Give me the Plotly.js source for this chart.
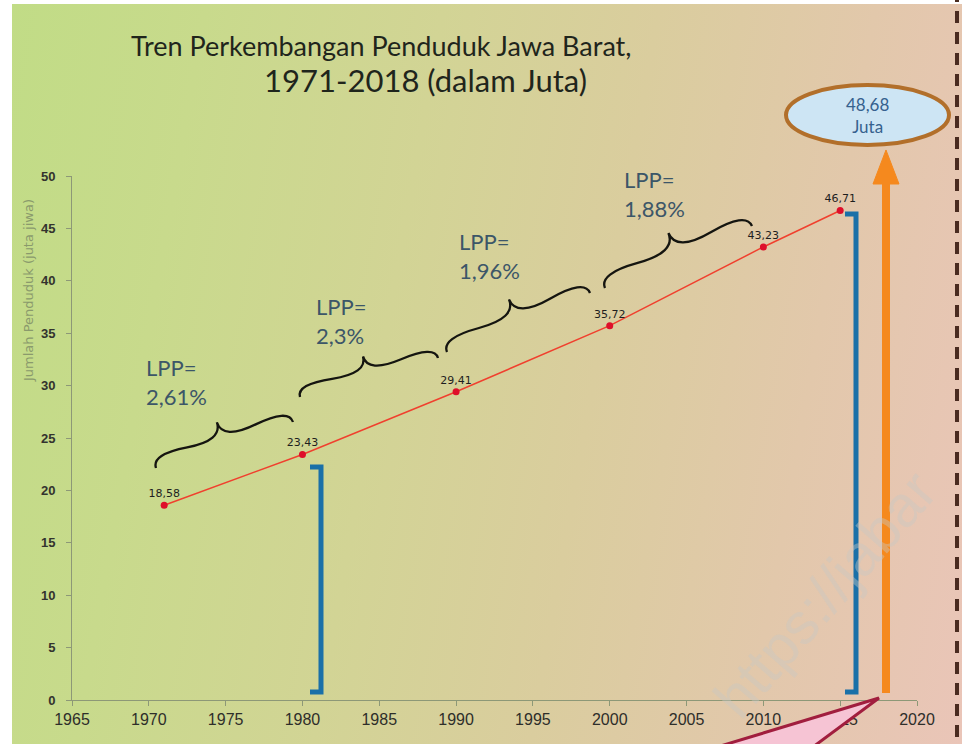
<!DOCTYPE html>
<html><head><meta charset="utf-8">
<script src="https://cdn.plot.ly/plotly-3.0.1.min.js"></script>
<style>
html,body{margin:0;padding:0;background:#fff;width:962px;height:744px;overflow:hidden;}
#bg{position:absolute;left:12px;top:4px;width:950px;height:740px;
background:linear-gradient(100deg,#c1dc86 0%,#c8da8c 18%,#d2d495 40%,#dacd9e 60%,#e2c8ab 80%,#eac5b8 100%);}
#chart{position:absolute;left:0;top:0;width:962px;height:744px;}
</style></head><body><div id="bg"></div><div id="chart"></div>
<script>
// ---- data ----
const years = [1971, 1980, 1990, 2000, 2010, 2015];
const population = [18.58, 23.43, 29.41, 35.72, 43.23, 46.71];
const xTickVals = [1965, 1970, 1975, 1980, 1985, 1990, 1995, 2000, 2005, 2010, 2015, 2020];
const yTickVals = [0, 5, 10, 15, 20, 25, 30, 35, 40, 45, 50];
const lppTexts = ['LPP=<br>2,61%', 'LPP=<br>2,3%', 'LPP=<br>1,96%', 'LPP=<br>1,88%'];
const projectionText = '48,68<br>Juta';
const titleLine1 = 'Tren Perkembangan Penduduk Jawa Barat,';
const titleLine2 = '1971-2018 (dalam Juta)';
const yTitle = 'Jumlah Penduduk (juta jiwa)';

// ---- layout geometry (pixels) ----
const W = 962, H = 744, L = 72, R = 917, T = 176, B = 700;
const px = x => (x - L) / (R - L);
const py = y => (B - y) / (B - T);
const P = (x, y) => px(x).toFixed(5) + ',' + py(y).toFixed(5);

function bracePath(x1, y1, x2, y2, w, q) {
  let dx = x1 - x2, dy = y1 - y2;
  const len = Math.hypot(dx, dy); dx /= len; dy /= len;
  const q1 = [x1 + q * w * dy, y1 - q * w * dx];
  const q2 = [(x1 - .25 * len * dx) + (1 - q) * w * dy, (y1 - .25 * len * dy) - (1 - q) * w * dx];
  const t = [(x1 - .5 * len * dx) + w * dy, (y1 - .5 * len * dy) - w * dx];
  const q3 = [x2 + q * w * dy, y2 - q * w * dx];
  const q4 = [(x1 - .75 * len * dx) + (1 - q) * w * dy, (y1 - .75 * len * dy) - (1 - q) * w * dx];
  const c1 = [2 * q2[0] - q1[0], 2 * q2[1] - q1[1]];
  const c2 = [2 * q4[0] - q3[0], 2 * q4[1] - q3[1]];
  return 'M ' + P(x1, y1) + ' Q ' + P(q1[0], q1[1]) + ' ' + P(q2[0], q2[1]) + ' Q ' + P(c1[0], c1[1]) + ' ' + P(t[0], t[1]) +
    ' M ' + P(x2, y2) + ' Q ' + P(q3[0], q3[1]) + ' ' + P(q4[0], q4[1]) + ' Q ' + P(c2[0], c2[1]) + ' ' + P(t[0], t[1]);
}

const braceDefs = [
  [293, 422, 156, 468, 24],
  [438, 358, 300, 397, 22],
  [590, 293, 447, 352, 25],
  [752, 226, 605, 288, 26]
];

const shapes = [];
braceDefs.forEach(b => shapes.push({type: 'path', xref: 'paper', yref: 'paper', path: bracePath(b[0], b[1], b[2], b[3], b[4], 0.6),
  line: {color: '#151510', width: 2.3}}));
// blue brackets
shapes.push({type: 'path', xref: 'paper', yref: 'paper', path: 'M ' + P(310, 467) + ' L ' + P(321, 467) + ' L ' + P(321, 692) + ' L ' + P(310, 692),
  line: {color: '#1a70a8', width: 5}});
shapes.push({type: 'path', xref: 'paper', yref: 'paper', path: 'M ' + P(845, 214) + ' L ' + P(856, 214) + ' L ' + P(856, 692) + ' L ' + P(845, 692),
  line: {color: '#1a70a8', width: 5}});
// orange arrow
shapes.push({type: 'line', xref: 'paper', yref: 'paper', x0: px(886), x1: px(886), y0: py(693), y1: py(176),
  line: {color: '#f5891e', width: 8}});
shapes.push({type: 'path', xref: 'paper', yref: 'paper', path: 'M ' + P(873, 184) + ' L ' + P(899, 184) + ' L ' + P(886, 150) + ' Z',
  fillcolor: '#f5891e', line: {color: '#f5891e', width: 1}});
// oval
shapes.push({type: 'circle', xref: 'paper', yref: 'paper', x0: px(786), x1: px(949), y0: py(145), y1: py(85),
  fillcolor: '#cde5f4', line: {color: '#b26f2a', width: 4}});
// dashed line
shapes.push({type: 'line', xref: 'paper', yref: 'paper', x0: px(957), x1: px(957), y0: py(-10), y1: py(760),
  line: {color: '#4a2b20', width: 4, dash: '12px,9px'}});
// pink callout
shapes.push({type: 'path', xref: 'paper', yref: 'paper', path: 'M ' + P(879, 698) + ' L ' + P(661, 764) + ' L ' + P(790, 764) + ' Z',
  fillcolor: '#f6c4d4', line: {color: '#a11e3e', width: 3}});

const annFont = 'Lato, "Open Sans", "Liberation Sans", sans-serif';
const A = (x, y, text, font, extra) => Object.assign({xref: 'paper', yref: 'paper', x: px(x), y: py(y), text: text,
  showarrow: false, xanchor: 'center', yanchor: 'middle', font: font}, extra || {});
const annotations = [
  A(824, 594, 'https://jabar', {family: '"Liberation Sans", sans-serif', size: 58, color: 'rgba(200,200,195,0.42)'}, {textangle: -49}),
  A(381, 45, titleLine1, {family: annFont, size: 27, color: '#1f251c'}),
  A(425, 80, titleLine2, {family: annFont, size: 31, color: '#1f251c'}),
  A(28, 291, yTitle, {family: '"DejaVu Sans", sans-serif', size: 13, color: '#8a9a6c'}, {textangle: -90}),
  A(867, 115, projectionText, {family: annFont, size: 17, color: '#35618e'})
];
const lppPos = [[144, 352], [314, 291], [457, 226], [622, 164]];
lppTexts.forEach((t, i) => annotations.push(A(lppPos[i][0], lppPos[i][1], t,
  {family: annFont, size: 22, color: '#3c5668'}, {xanchor: 'left', yanchor: 'top', align: 'left'})));

const trace = {
  x: years, y: population, type: 'scatter', mode: 'lines+markers+text',
  text: population.map(v => v.toFixed(2).replace('.', ',')),
  textposition: 'top center',
  textfont: {family: '"DejaVu Sans", sans-serif', size: 11, color: '#1e1e1e'},
  line: {color: '#f0402e', width: 1.5},
  marker: {color: '#de0f2a', size: 7},
  cliponaxis: false, hoverinfo: 'x+y'
};

const layout = {
  width: W, height: H,
  margin: {l: L, r: W - R, t: T, b: H - B, pad: 0},
  paper_bgcolor: 'rgba(0,0,0,0)', plot_bgcolor: 'rgba(0,0,0,0)',
  showlegend: false,
  xaxis: {range: [1965, 2020], tickvals: xTickVals, ticktext: xTickVals.map(String), showgrid: false, zeroline: false,
    showline: true, linecolor: '#8d9877', linewidth: 1, ticks: 'outside', ticklen: 5, tickcolor: '#8d9877',
    tickfont: {family: '"Liberation Sans Narrow", "Liberation Sans", sans-serif', size: 16, color: '#2e2e2a'}},
  yaxis: {range: [0, 50], tickvals: yTickVals, showgrid: false, zeroline: false,
    showline: true, linecolor: '#8d9877', linewidth: 1, ticks: 'outside', ticklen: 5, tickcolor: '#8d9877',
    ticklabelstandoff: 8,
    tickfont: {family: '"Liberation Sans", sans-serif', size: 13, weight: 'bold', color: '#33332e'}},
  shapes: shapes, annotations: annotations
};
Plotly.newPlot('chart', [trace], layout, {displayModeBar: false, staticPlot: true});
</script></body></html>
